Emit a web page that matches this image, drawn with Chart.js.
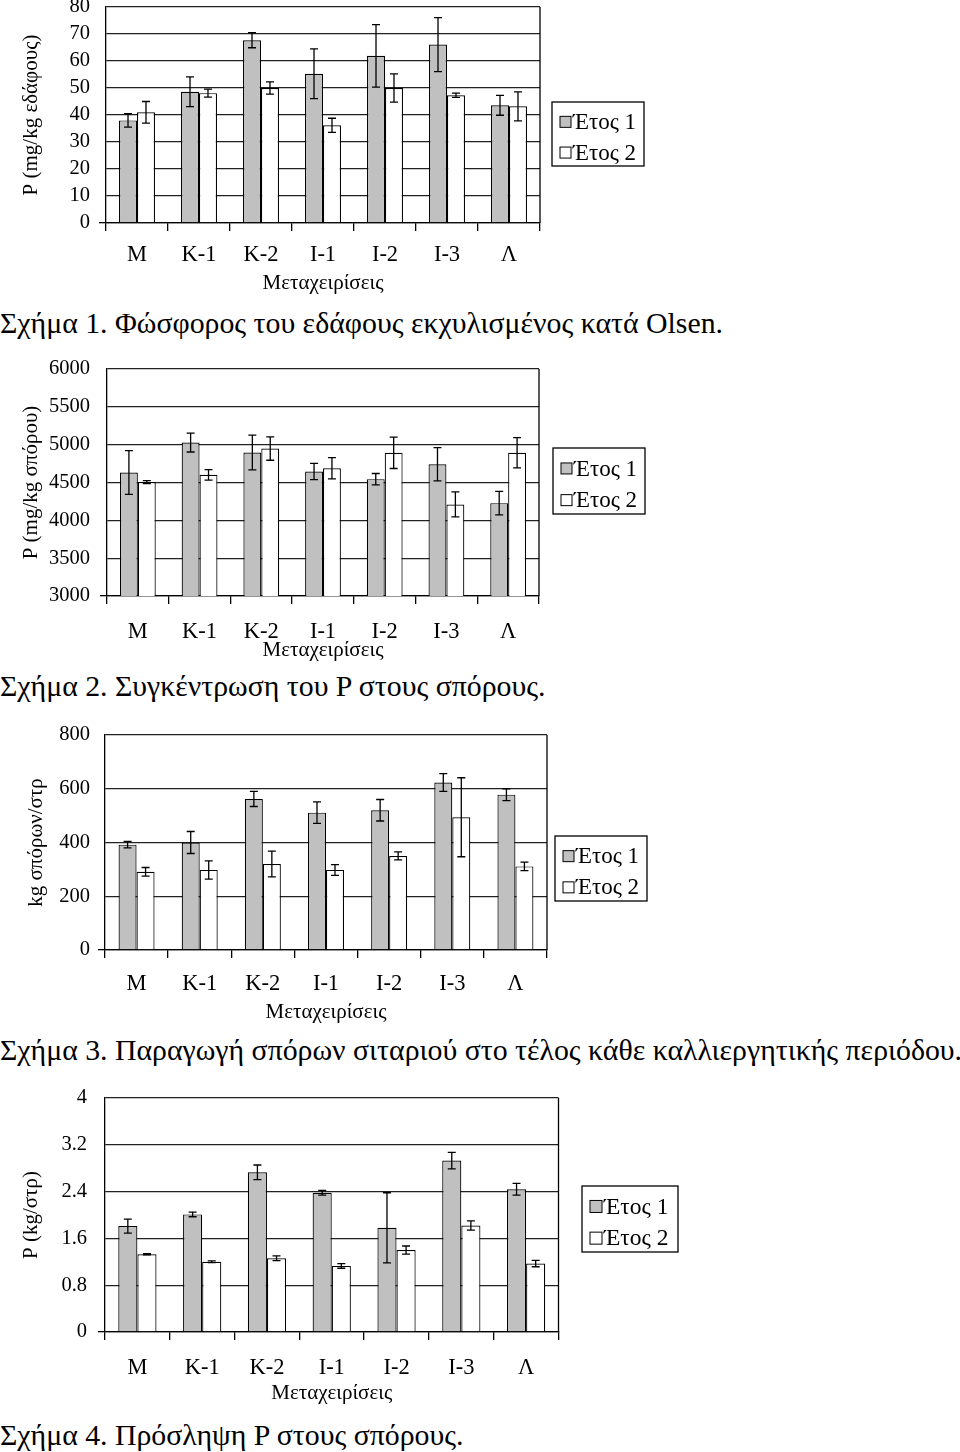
<!DOCTYPE html>
<html><head><meta charset="utf-8">
<script src="https://cdn.jsdelivr.net/npm/chart.js@4.4.1/dist/chart.umd.min.js"></script>
<style>
html,body{margin:0;padding:0;background:#fff;}
body{width:960px;height:1452px;position:relative;overflow:hidden;font-family:'Liberation Serif','Times New Roman',serif;}
canvas{position:absolute;left:0;}
.cap{position:absolute;left:0;white-space:nowrap;font-size:29.8px;line-height:34px;color:#000;}
</style></head><body>
<canvas id="c1"></canvas>
<canvas id="c2"></canvas>
<canvas id="c3"></canvas>
<canvas id="c4"></canvas>
<div class="cap" style="top:306px">Σχήμα 1. Φώσφορος του εδάφους εκχυλισμένος κατά Olsen.</div>
<div class="cap" style="top:669px">Σχήμα 2. Συγκέντρωση του P στους σπόρους.</div>
<div class="cap" style="top:1033px">Σχήμα 3. Παραγωγή σπόρων σιταριού στο τέλος κάθε καλλιεργητικής περιόδου.</div>
<div class="cap" style="top:1418px">Σχήμα 4. Πρόσληψη P στους σπόρους.</div>
<script>
// ---------- DATA ----------
const categories = ['Μ', 'Κ-1', 'Κ-2', 'Ι-1', 'Ι-2', 'Ι-3', 'Λ'];
const seriesNames = ['Έτος 1', 'Έτος 2'];
const xTitle = 'Μεταχειρίσεις';

// Fig 1: soil Olsen P
const soilP_year1 = [38, 48.6, 67.7, 55.3, 61.9, 66.1, 43.6];
const soilP_err1  = [2.5, 5.5, 2.8, 9.2, 11.6, 10, 3.7];
const soilP_year2 = [41, 48.1, 50, 36.2, 50, 47.3, 43.2];
const soilP_err2  = [4, 1.5, 2.3, 2.6, 5.2, 0.8, 5.4];
const soilP_ticks = [0, 10, 20, 30, 40, 50, 60, 70, 80];
const soilP_tickLabels = ['0', '10', '20', '30', '40', '50', '60', '70', '80'];

// Fig 2: seed P concentration
const seedP_year1 = [4632, 5028, 4896, 4645, 4544, 4742, 4227];
const seedP_err1  = [290, 125, 230, 108, 75, 220, 155];
const seedP_year2 = [4505, 4601, 4949, 4689, 4892, 4210, 4892];
const seedP_err2  = [20, 70, 155, 140, 207, 165, 200];
const seedP_ticks = [3000, 3500, 4000, 4500, 5000, 5500, 6000];
const seedP_tickLabels = ['3000', '3500', '4000', '4500', '5000', '5500', '6000'];

// Fig 3: seed yield
const yield_year1 = [392, 400, 562, 511, 520, 623, 578];
const yield_err1  = [12, 41, 28, 40, 40, 33, 22];
const yield_year2 = [291, 298, 320, 298, 350, 494, 311];
const yield_err2  = [16, 34, 48, 20, 15, 147, 16];
const yield_ticks = [0, 200, 400, 600, 800];
const yield_tickLabels = ['0', '200', '400', '600', '800'];

// Fig 4: P uptake
const uptake_year1 = [1.81, 2.01, 2.73, 2.38, 1.78, 2.93, 2.44];
const uptake_err1  = [0.12, 0.04, 0.125, 0.04, 0.6, 0.14, 0.1];
const uptake_year2 = [1.33, 1.2, 1.26, 1.13, 1.40, 1.82, 1.17];
const uptake_err2  = [0.01, 0.015, 0.04, 0.04, 0.07, 0.08, 0.055];
const uptake_ticks = [0, 0.8, 1.6, 2.4, 3.2, 4];
const uptake_tickLabels = ['0', '0.8', '1.6', '2.4', '3.2', '4'];

// ---------- DRAWING ----------
const FONT = '"Liberation Serif", "Times New Roman", serif';
Chart.defaults.font.family = FONT;
Chart.defaults.color = '#000';
Chart.defaults.animation = false;

const errorBarPlugin = {
  id: 'errorBars',
  afterDatasetsDraw(chart) {
    const ctx = chart.ctx, ys = chart.scales.y;
    ctx.save();
    ctx.strokeStyle = '#000';
    ctx.lineWidth = 1.3;
    chart.data.datasets.forEach((ds, i) => {
      const meta = chart.getDatasetMeta(i);
      meta.data.forEach((bar, j) => {
        const v = ds.data[j], e = ds.errors[j];
        const yt = ys.getPixelForValue(v + e), yb = ys.getPixelForValue(v - e);
        const x = bar.x, hw = 4;
        ctx.beginPath();
        ctx.moveTo(x, yt); ctx.lineTo(x, yb);
        ctx.moveTo(x - hw, yt); ctx.lineTo(x + hw, yt);
        ctx.moveTo(x - hw, yb); ctx.lineTo(x + hw, yb);
        ctx.stroke();
      });
    });
    ctx.restore();
  }
};

const framePlugin = {
  id: 'frame',
  afterDraw(chart) {
    const {ctx, chartArea: a} = chart;
    ctx.save();
    ctx.strokeStyle = '#000';
    ctx.lineWidth = 1.3;
    ctx.beginPath();
    ctx.moveTo(a.right, a.top);
    ctx.lineTo(a.right, a.bottom);
    ctx.stroke();
    ctx.restore();
  }
};

const boxLegendPlugin = {
  id: 'boxLegend',
  afterDraw(chart, args, o) {
    const ctx = chart.ctx;
    const x = o.x, y = o.y - o.offsetY, w = o.w, h = o.h;
    ctx.save();
    ctx.fillStyle = '#fff';
    ctx.fillRect(x, y, w, h);
    ctx.strokeStyle = '#000';
    ctx.lineWidth = 1.3;
    ctx.strokeRect(x, y, w, h);
    ctx.font = o.fontSize + 'px ' + FONT;
    ctx.textBaseline = 'middle';
    ctx.textAlign = 'left';
    const s = o.swatch;
    chart.data.datasets.forEach((ds, i) => {
      const cy = y + h * (0.31 + i * 0.48);
      ctx.fillStyle = ds.backgroundColor;
      ctx.fillRect(x + 8, cy - s / 2, s, s);
      ctx.lineWidth = 1;
      ctx.strokeRect(x + 8, cy - s / 2, s, s);
      ctx.fillStyle = '#000';
      ctx.fillText(ds.label, x + 8 + s + 2, cy + 1);
    });
    ctx.restore();
  }
};

function makeChart(id, spec, y1, e1, y2, e2, tickVals, tickLabels, yTitle) {
  const PAD_TOP = 22, W = 700, TICKLEN = 8, YTICKLEN = 7;
  const titleLH = spec.titleFont * 1.2;
  const labelLH = spec.labelFont * 1.2;
  const canvasTop = spec.plotTop - PAD_TOP;
  const xScaleBottom = spec.titleY + titleLH / 2;
  const canvasH = Math.ceil(xScaleBottom - canvasTop) + 4;
  const padBottom = canvasH - (xScaleBottom - canvasTop);
  const xAxisH = xScaleBottom - spec.plotBottom;
  const labelPad = spec.labelY - labelLH / 2 - spec.plotBottom - TICKLEN;
  const yTitleLH = spec.titleFont * 1.2;
  const yTitlePad = spec.yTitleX - yTitleLH / 2;
  const yTickPad = spec.plotLeft - YTICKLEN - spec.tickRight;

  const cv = document.getElementById(id);
  cv.width = W; cv.height = canvasH;
  cv.style.top = canvasTop + 'px';
  cv.style.width = W + 'px'; cv.style.height = canvasH + 'px';

  const minV = tickVals[0], maxV = tickVals[tickVals.length - 1];
  return new Chart(cv, {
    type: 'bar',
    data: {
      labels: categories,
      datasets: [
        {label: seriesNames[0], data: y1, errors: e1, backgroundColor: '#c0c0c0', borderColor: '#000', borderWidth: 1.2,
         barPercentage: 1, categoryPercentage: spec.catPct},
        {label: seriesNames[1], data: y2, errors: e2, backgroundColor: '#ffffff', borderColor: '#000', borderWidth: 1.2,
         barPercentage: 1, categoryPercentage: spec.catPct}
      ]
    },
    options: {
      responsive: false,
      devicePixelRatio: 1,
      layout: {padding: {top: PAD_TOP, left: 0, right: W - spec.plotRight, bottom: padBottom}},
      plugins: {
        legend: {display: false},
        tooltip: {enabled: false},
        boxLegend: {x: spec.legend.x, y: spec.legend.y, w: spec.legend.w, h: spec.legend.h,
                    offsetY: canvasTop, fontSize: spec.legendFont, swatch: spec.swatch}
      },
      scales: {
        x: {
          offset: true,
          grid: {display: true, drawOnChartArea: false, drawTicks: true, tickLength: TICKLEN, offset: true,
                 color: '#000', lineWidth: 1.3},
          border: {display: true, color: '#000', width: 1.3},
          ticks: {font: {size: spec.labelFont}, padding: labelPad, maxRotation: 0, autoSkip: false, color: '#000'},
          title: {display: true, text: xTitle, font: {size: spec.titleFont}, padding: {top: 0, bottom: 0}, color: '#000'},
          afterFit(s) { s.height = xAxisH; s.paddingLeft = 0; s.paddingRight = 0; }
        },
        y: {
          min: minV, max: maxV,
          afterBuildTicks(s) { s.ticks = tickVals.map(v => ({value: v})); },
          grid: {display: true, drawOnChartArea: true, drawTicks: true, tickLength: YTICKLEN,
                 color: '#222', lineWidth: 1.3,
                 tickColor: (c) => (c.tick && c.tick.value === minV) ? '#000' : 'rgba(0,0,0,0)'},
          border: {display: true, color: '#000', width: 1.3},
          ticks: {font: {size: spec.tickFont}, padding: yTickPad, color: '#000', autoSkip: false,
                  callback: (v, i) => tickLabels[i]},
          title: {display: true, text: yTitle, font: {size: spec.titleFont}, padding: {top: yTitlePad, bottom: 0}, color: '#000'},
          afterFit(s) { s.width = spec.plotLeft; s.paddingTop = 0; s.paddingBottom = 0; }
        }
      }
    },
    plugins: [errorBarPlugin, framePlugin, boxLegendPlugin]
  });
}

const base = {tickFont: 20.5, labelFont: 22.5, titleFont: 21, legendFont: 23, swatch: 11, tickRight: 90};

makeChart('c1', Object.assign({}, base, {plotTop: 7, plotBottom: 223, plotLeft: 106, plotRight: 540,
  labelY: 255, titleY: 283, yTitleX: 31, legend: {x: 552, y: 102, w: 92, h: 64}, catPct: 0.58}),
  soilP_year1, soilP_err1, soilP_year2, soilP_err2, soilP_ticks, soilP_tickLabels, 'P (mg/kg εδάφους)');

makeChart('c2', Object.assign({}, base, {plotTop: 369, plotBottom: 596, plotLeft: 107, plotRight: 539,
  labelY: 632, titleY: 650, yTitleX: 31, legend: {x: 553, y: 448, w: 92, h: 66}, catPct: 0.58}),
  seedP_year1, seedP_err1, seedP_year2, seedP_err2, seedP_ticks, seedP_tickLabels, 'P (mg/kg σπόρου)');

makeChart('c3', Object.assign({}, base, {plotTop: 735, plotBottom: 950, plotLeft: 105, plotRight: 547,
  labelY: 984, titleY: 1012, yTitleX: 36, legend: {x: 555, y: 836, w: 92, h: 65}, catPct: 0.57}),
  yield_year1, yield_err1, yield_year2, yield_err2, yield_ticks, yield_tickLabels, 'kg σπόρων/στρ');

makeChart('c4', Object.assign({}, base, {plotTop: 1098, plotBottom: 1332, plotLeft: 105, plotRight: 558.5,
  labelY: 1368, titleY: 1393, yTitleX: 31, legend: {x: 582, y: 1186, w: 96, h: 66}, catPct: 0.59,
  legendFont: 23.5, swatch: 12, tickRight: 87}),
  uptake_year1, uptake_err1, uptake_year2, uptake_err2, uptake_ticks, uptake_tickLabels, 'P (kg/στρ)');
</script>
</body></html>
